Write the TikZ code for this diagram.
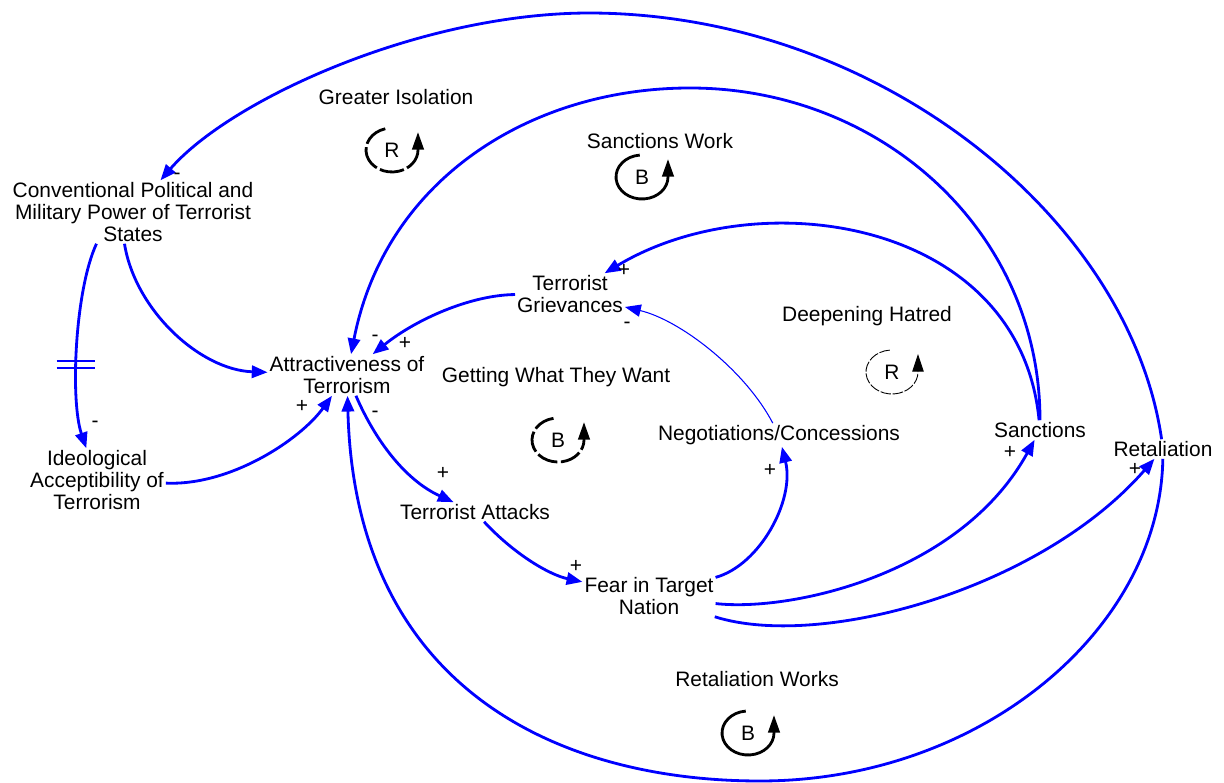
\documentclass[tikz,border=0pt]{standalone}
\usepackage{fontspec}
\setmainfont{Liberation Sans}
\usetikzlibrary{arrows.meta}

\begin{document}
\begin{tikzpicture}[x=0.02cm, y=-0.02cm,
        font=\fontsize{11.9pt}{12.5pt}\selectfont,
        var/.style={align=center, inner sep=1pt},
        link/.style={blue, line width=1.6pt, -{Triangle[length=9pt,width=7pt]}},
        sign/.style={inner sep=0pt},
        loopline/.style={black, line width=1.6pt, -{Triangle[length=10pt,width=6.5pt]}}]
    \useasboundingbox (0,0) rectangle (1224,783);

    % variables
    \node[var] (conv) at (133,212) {Conventional Political and\\Military Power of Terrorist\\States};
    \node[var] (attr) at (347,375) {Attractiveness of\\Terrorism};
    \node[var] (ideo) at (97,480) {Ideological\\Acceptibility of\\Terrorism};
    \node[var] (griev) at (570,294) {Terrorist\\Grievances};
    \node[var] (attacks) at (475,512) {Terrorist Attacks};
    \node[var] (fear) at (649,596) {Fear in Target\\Nation};
    \node[var] (nego) at (779,435) {Negotiations/Concessions};
    \node[var] (sanct) at (1040,430) {Sanctions};
    \node[var] (retal) at (1163,449) {Retaliation};

    % links
    \draw[link] (retal) .. controls (1130,220) and (880,14) .. (590,13)
        .. controls (420,13) and (230,100) .. (conv);
    \draw[link] (sanct) .. controls (1040,230) and (880,88) .. (690,88)
        .. controls (530,88) and (385,180) .. (attr);
    \draw[link] (sanct) .. controls (1020,220) and (760,180) .. (griev);
    \draw[link] (griev) .. controls (470,295) and (415,320) .. (attr);
    \draw[link] (conv.255) .. controls (135,310) and (200,370) .. (attr);
    \draw[link] (conv.221) .. controls (75,290) and (70,400) .. coordinate[pos=0.58] (dly) (ideo);
    \draw[blue, line width=1.2pt] ([shift={(-20,-3)}]dly) -- ++(38,0)
        ([shift={(-20,4)}]dly) -- ++(38,0);
    \draw[link] (ideo) .. controls (230,486) and (300,440) .. (attr);
    \draw[link] (retal) .. controls (1160,630) and (980,781) .. (760,781)
        .. controls (560,781) and (355,690) .. (attr);
    \draw[link] (attr) .. controls (375,440) and (405,480) .. (attacks);
    \draw[link] (attacks) .. controls (515,555) and (550,575) .. (fear);
    \draw[link] (fear) .. controls (760,565) and (795,500) .. (nego);
    \draw[link, line width=0.6pt] (nego) .. controls (745,370) and (680,320) .. (griev);
    \draw[link] (fear) .. controls (790,612) and (960,575) .. (sanct);
    \draw[link] (fear) .. controls (820,650) and (1040,590) .. (retal);

    % polarities
    \node[sign] (p1) at (177,176) {-};
    \node[sign] (p2) at (95,424) {-};
    \node[sign] (p3) at (302,406) {+};
    \node[sign] (p4) at (375,338) {-};
    \node[sign] (p5) at (405,343) {+};
    \node[sign] (p6) at (375,414) {-};
    \node[sign] (p7) at (443,473) {+};
    \node[sign] (p8) at (576,566) {+};
    \node[sign] (p9) at (770,470) {+};
    \node[sign] (p10) at (627,325) {-};
    \node[sign] (p11) at (624,270) {+};
    \node[sign] (p12) at (1010,452) {+};
    \node[sign] (p13) at (1135,469) {+};

    % loops
    \node (isol) at (396,97) {Greater Isolation};
    \draw[loopline, dash pattern=on 14pt off 2pt] (392,150) ++(105:0.52cm and 0.44cm)
        arc[start angle=105, end angle=360, x radius=0.52cm, y radius=0.44cm] -- ++(0,-18);
    \node (isolR) at (392,150) {R};
    \node (work) at (660,141) {Sanctions Work};
    \draw[loopline] (642,177) ++(95:0.52cm and 0.44cm)
        arc[start angle=95, end angle=360, x radius=0.52cm, y radius=0.44cm] -- ++(0,-18);
    \node (workB) at (642,177) {B};
    \node (hate) at (867,316) {Deepening Hatred};
    \draw[loopline, line width=0.5pt, dash pattern=on 6pt off 1pt] (892,372) ++(95:0.52cm and 0.44cm)
        arc[start angle=95, end angle=360, x radius=0.52cm, y radius=0.44cm] -- ++(0,-18);
    \node (hateR) at (892,372) {R};
    \node (want) at (556,377) {Getting What They Want};
    \draw[loopline, dash pattern=on 12pt off 2pt] (558,440) ++(100:0.52cm and 0.44cm)
        arc[start angle=100, end angle=360, x radius=0.52cm, y radius=0.44cm] -- ++(0,-18);
    \node (wantB) at (558,440) {B};
    \node (rwork) at (757,679) {Retaliation Works};
    \draw[loopline] (748,733) ++(95:0.52cm and 0.44cm)
        arc[start angle=95, end angle=360, x radius=0.52cm, y radius=0.44cm] -- ++(0,-18);
    \node (rworkB) at (748,733) {B};
\end{tikzpicture}
\end{document}
